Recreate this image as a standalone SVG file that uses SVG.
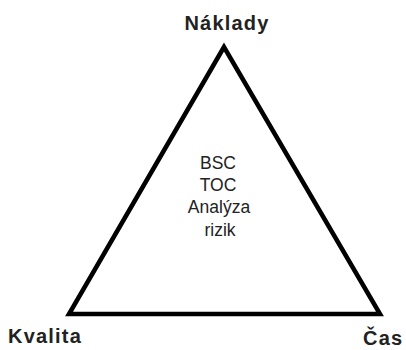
<svg xmlns="http://www.w3.org/2000/svg" width="406" height="350" viewBox="0 0 406 350">
  <style>
    .edge { fill: none; stroke: #000; stroke-width: 4.5; stroke-linejoin: miter; stroke-miterlimit: 10; }
    .corner { font-family: "Liberation Sans", Arial, sans-serif; font-weight: bold; font-size: 20px; fill: #222; letter-spacing: 1.2px; }
    .inner { font-family: "Liberation Sans", Arial, sans-serif; font-size: 17.5px; fill: #222; text-anchor: middle; }
  </style>
  <rect width="406" height="350" fill="#fff"/>
  <g id="connectors">
    <polygon class="edge" points="224,47 69,314 380,314"/>
  </g>
  <g id="naklady">
    <text class="corner" x="227" y="30" text-anchor="middle">Náklady</text>
  </g>
  <g id="kvalita">
    <text class="corner" x="8" y="343">Kvalita</text>
  </g>
  <g id="cas">
    <text class="corner" x="363" y="345">Čas</text>
  </g>
  <g id="metody">
    <text class="inner" x="218" y="169">BSC</text>
    <text class="inner" x="218" y="191">TOC</text>
    <text class="inner" x="219" y="213">Analýza</text>
    <text class="inner" x="220" y="236">rizik</text>
  </g>
</svg>
